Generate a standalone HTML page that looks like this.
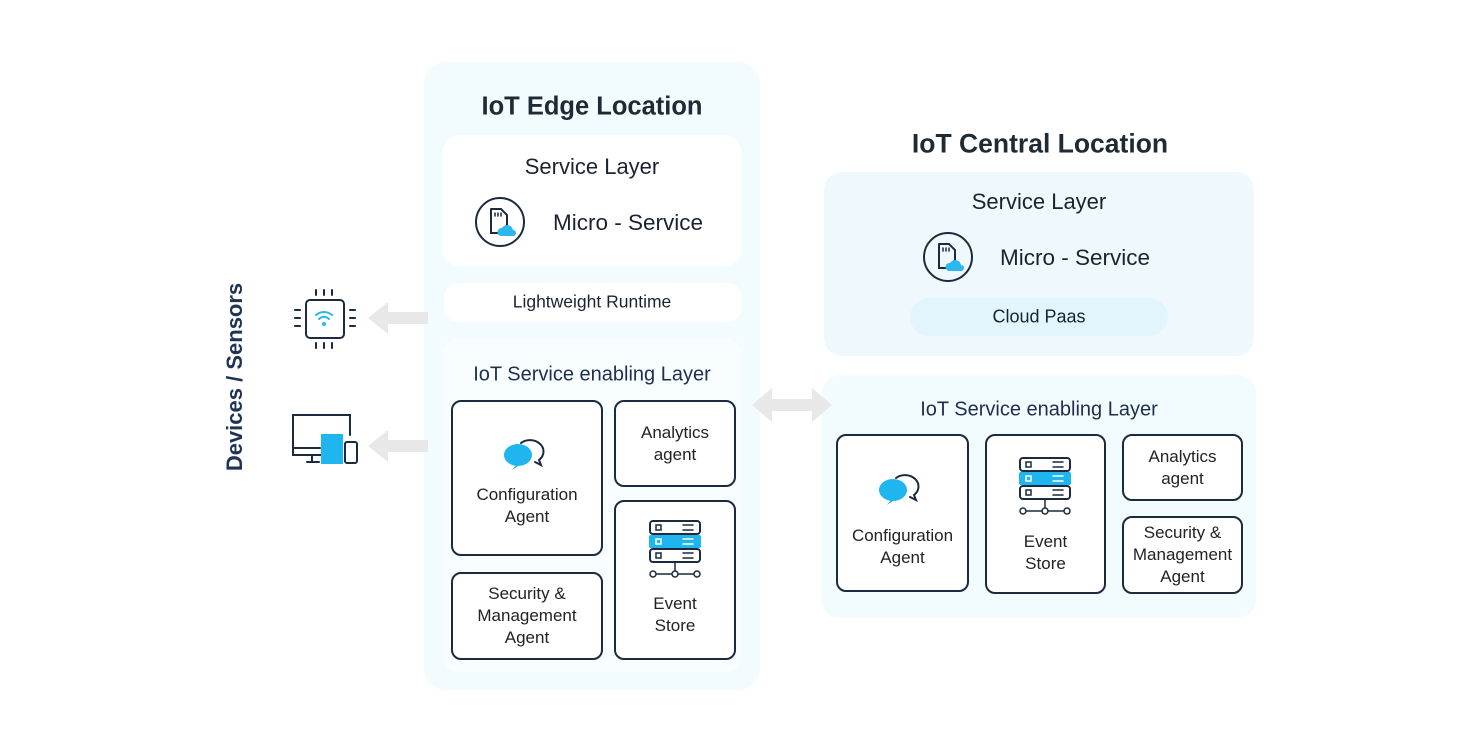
<!DOCTYPE html>
<html><head><meta charset="utf-8"><style>
body{margin:0;width:1480px;height:752px;background:#fff;position:relative;overflow:hidden;font-family:"Liberation Sans",sans-serif;color:#1b2330}
.a{position:absolute;box-sizing:border-box}
.t{position:absolute;white-space:nowrap;transform:translate(-50%,-50%)}
.b{position:absolute;box-sizing:border-box;border:2px solid #1c2a3f;border-radius:10px;background:#fff;font-size:17px;text-align:center;color:#222;line-height:22px;display:flex;flex-direction:column;align-items:center;justify-content:center}
</style></head><body>
<!-- edge -->
<div class="a" style="left:424px;top:62px;width:336px;height:628px;background:#f2fbfe;border-radius:22px"></div>
<div class="t" style="left:592px;top:107px;font-size:25.5px;font-weight:bold;color:#1e2a36">IoT Edge Location</div>
<div class="a" style="left:442px;top:135px;width:300px;height:131px;background:#fff;border-radius:18px"></div>
<div class="t" style="left:592px;top:167px;font-size:22px">Service Layer</div>
<div class="t" style="left:628px;top:223px;font-size:22.5px">Micro - Service</div>
<div class="a" style="left:444px;top:283px;width:298px;height:39px;background:#fff;border-radius:14px"></div>
<div class="t" style="left:592px;top:302px;font-size:17.5px">Lightweight Runtime</div>
<div class="a" style="left:442px;top:338px;width:300px;height:334px;background:#f8fdff;border-radius:16px"></div>
<div class="t" style="left:592px;top:375px;font-size:20px;color:#1f2e4f">IoT Service enabling Layer</div>
<div class="b" style="left:451px;top:400px;width:152px;height:156px;padding-top:56px">Configuration<br>Agent</div>
<div class="b" style="left:614px;top:400px;width:122px;height:87px">Analytics<br>agent</div>
<div class="b" style="left:451px;top:572px;width:152px;height:88px">Security &amp;<br>Management<br>Agent</div>
<div class="b" style="left:614px;top:500px;width:122px;height:160px;padding-top:70px">Event<br>Store</div>
<!-- central -->
<div class="t" style="left:1040px;top:144px;font-size:26.5px;font-weight:bold;color:#1e2a36">IoT Central Location</div>
<div class="a" style="left:824px;top:172px;width:430px;height:184px;background:#eff9fd;border-radius:18px"></div>
<div class="t" style="left:1039px;top:202px;font-size:22px">Service Layer</div>
<div class="t" style="left:1075px;top:258px;font-size:22.5px">Micro - Service</div>
<div class="a" style="left:910px;top:298px;width:258px;height:38px;background:#e2f5fc;border-radius:19px"></div>
<div class="t" style="left:1039px;top:317px;font-size:18px">Cloud Paas</div>
<div class="a" style="left:822px;top:375px;width:434px;height:243px;background:#f2fbfe;border-radius:18px"></div>
<div class="t" style="left:1039px;top:410px;font-size:20px;color:#1f2e4f">IoT Service enabling Layer</div>
<div class="b" style="left:836px;top:434px;width:133px;height:158px;padding-top:68px">Configuration<br>Agent</div>
<div class="b" style="left:985px;top:434px;width:121px;height:160px;padding-top:78px">Event<br>Store</div>
<div class="b" style="left:1122px;top:434px;width:121px;height:67px">Analytics<br>agent</div>
<div class="b" style="left:1122px;top:516px;width:121px;height:78px">Security &amp;<br>Management<br>Agent</div>
<div class="t" style="left:235px;top:377px;font-size:22px;font-weight:bold;color:#1f3357;transform:translate(-50%,-50%) rotate(-90deg)">Devices / Sensors</div>
<svg class="a" style="left:0;top:0" width="1480" height="752" fill="none" stroke-linecap="round">
<defs>
<g id="ms"><circle cx="0" cy="0" r="24" stroke="#1c2a3f" stroke-width="2"/><path d="M-9,-13 h10 l6,6 v10 M-9,-13 v24 h8" stroke="#1c2a3f" stroke-width="2"/><path d="M-5,-9v3M-2,-9v3M1,-9v3" stroke="#1c2a3f" stroke-width="1.5"/><path d="M1,14 a4,4 0 0 1 1,-8 a6,6 0 0 1 11,2 a3,3 0 0 1 0,6 z" fill="#2bb8ec"/></g>
<g id="ch"><ellipse cx="0" cy="0" rx="14" ry="11" fill="#1fb5ee"/><path d="M-2,10 l-4,5 l6,-4" fill="#1fb5ee"/><path d="M3,-12 a13,11 0 1 1 18,17 l2,5 l-6,-3" stroke="#1c2a3f" stroke-width="2"/></g>
<g id="es"><rect x="-25" y="-24" width="50" height="13" rx="3" stroke="#1c2a3f" stroke-width="2"/><rect x="-26" y="-10" width="52" height="13" rx="2" fill="#1fb5ee"/><rect x="-25" y="4" width="50" height="13" rx="3" stroke="#1c2a3f" stroke-width="2"/><rect x="-19" y="-20" width="5" height="5" stroke="#1c2a3f" stroke-width="1.5"/><rect x="-19" y="-6" width="5" height="5" stroke="#fff" stroke-width="1.5"/><rect x="-19" y="8" width="5" height="5" stroke="#1c2a3f" stroke-width="1.5"/><path d="M8,-20h10M8,-15h10M8,8h10M8,13h10" stroke="#1c2a3f" stroke-width="1.5"/><path d="M8,-6h10M8,-1h10" stroke="#fff" stroke-width="1.5"/><path d="M0,17v12M-20,29h40" stroke="#1c2a3f" stroke-width="1.5"/><circle cx="-22" cy="29" r="3" fill="#fff" stroke="#1c2a3f" stroke-width="1.5"/><circle cx="0" cy="29" r="3" fill="#fff" stroke="#1c2a3f" stroke-width="1.5"/><circle cx="22" cy="29" r="3" fill="#fff" stroke="#1c2a3f" stroke-width="1.5"/></g>
</defs>
<use href="#ms" x="500" y="222"/><use href="#ms" x="948" y="257"/>
<use href="#ch" x="518" y="455"/><use href="#ch" x="893" y="490"/>
<use href="#es" x="675" y="545"/><use href="#es" x="1045" y="482"/>
<g fill="#e8e8e8"><path d="M368,318 l20,-16 v10 h40 v12 h-40 v10 z"/><path d="M368,446 l20,-16 v10 h40 v12 h-40 v10 z"/><path d="M752,405 l20,-17 v11 h40 v-11 l20,17 l-20,17 v-11 h-40 v11 z"/></g>
<g stroke="#1c2a3f" stroke-width="2"><rect x="306" y="300" width="38" height="38" rx="4"/><path d="M316,290v5M324,290v5M332,290v5M316,343v5M324,343v5M332,343v5M295,310h5M295,318h5M295,326h5M350,310h5M350,318h5M350,326h5"/></g>
<g stroke="#2bb8ec" stroke-width="2"><path d="M316,315 a12,12 0 0 1 16,0M319,319 a7,7 0 0 1 10,0"/></g><circle cx="324" cy="324" r="2" fill="#2bb8ec"/>
<g stroke="#1c2a3f" stroke-width="2"><path d="M322,455 h-29 v-40 h57 v20"/><path d="M293,448 h27M312,455v6M307,462h12"/><rect x="345" y="442" width="12" height="21" rx="2"/></g>
<rect x="321" y="434" width="22" height="30" fill="#1fb5ee"/>
</svg>
</body></html>
